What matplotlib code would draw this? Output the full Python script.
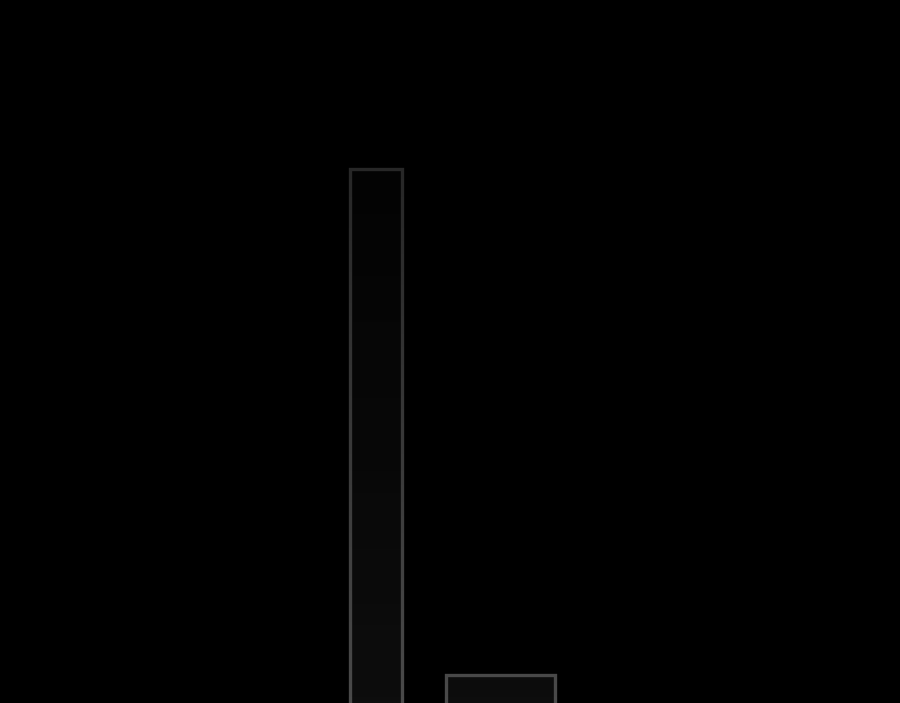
import matplotlib
matplotlib.use('Agg')
import matplotlib.pyplot as plt
import numpy as np

# bars visible in the cropped reference
categories = ['A', 'B']
values = [96, 24]
widths = [0.42, 0.875]

XLIM = (-3.02, 4.21)
YLIM = (20, 120)

fig = plt.figure(figsize=(9, 7.03), dpi=100)
fig.set_facecolor('black')
ax = fig.add_axes([0, 0, 1, 1])
ax.set_facecolor('black')

x = np.arange(len(categories))
bars = ax.bar(x, values, width=widths, color='none', edgecolor='#4a4a4a',
              linewidth=2.4, zorder=2)

# gradient fill inside each bar, darker towards the top
for b in bars:
    x0, y0 = b.get_x(), YLIM[0]
    x1, y1 = x0 + b.get_width(), b.get_height()
    ys = np.linspace(y1, y0, 128)
    shade = (0x0e - (ys - YLIM[0]) / (96 - YLIM[0]) * 0x07) / 255.0
    img = np.zeros((128, 1, 3))
    img[:, 0, :] = shade[:, None]
    im = ax.imshow(img, extent=[x0, x1, y0, y1], aspect='auto', zorder=1,
                   origin='upper', interpolation='bilinear')
    im.set_clip_path(b)

# dark fade from the top down
grad = np.zeros((256, 1, 4))
grad[:, 0, 3] = np.linspace(0.62, 0.0, 256)
ax.imshow(grad, extent=[XLIM[0], XLIM[1], YLIM[0], YLIM[1]], aspect='auto',
          zorder=5, origin='upper', interpolation='bilinear')

ax.set_xlim(*XLIM)
ax.set_ylim(*YLIM)
ax.axis('off')

fig.savefig('out.png', dpi=100, facecolor='black')
